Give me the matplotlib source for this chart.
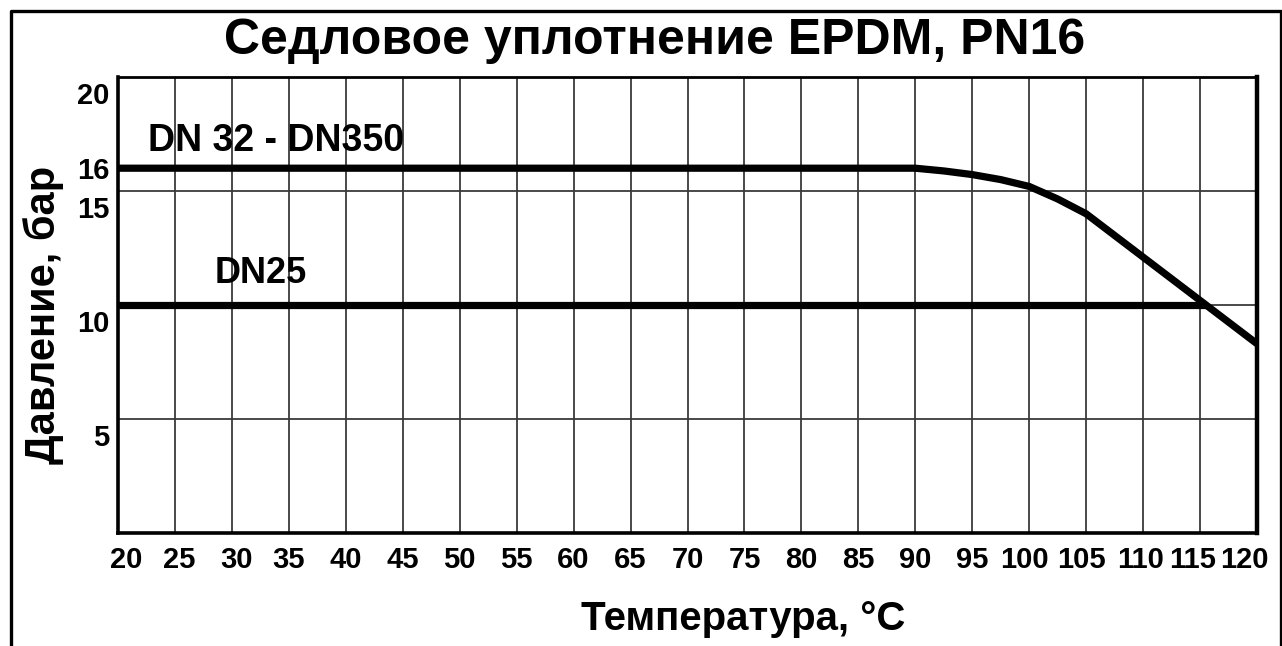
import matplotlib
matplotlib.use("Agg")
import matplotlib.pyplot as plt
import matplotlib.transforms as mtransforms
from matplotlib.lines import Line2D

plt.rcParams['font.family'] = ['Liberation Sans', 'DejaVu Sans']
plt.rcParams['font.weight'] = 'bold'

# данные
temp_ticks = [20, 25, 30, 35, 40, 45, 50, 55, 60, 65, 70, 75, 80, 85, 90, 95, 100, 105, 110, 115, 120]
press_ticks = [5, 10, 15, 16, 20]
press_grid = [5, 10, 15]

dn350_temp = [20, 90, 92.5, 95, 97.5, 100, 102.5, 105, 110, 115, 120]
dn350_press = [16, 16, 15.88, 15.72, 15.5, 15.2, 14.65, 14.0, 12.1, 10.2, 8.3]

dn25_temp = [20, 115.5]
dn25_press = [10, 10]

fig = plt.figure(figsize=(12.82, 6.46), dpi=100)
ax = fig.add_axes([118 / 1282, 113 / 646, 1139 / 1282, 456 / 646])

# сетка
for t in temp_ticks[1:-1]:
    ax.axvline(t, color='#3a3a3a', linewidth=1.3, zorder=1)
for p in press_grid:
    ax.axhline(p, color='#3a3a3a', linewidth=1.3, zorder=1)

ax.plot(dn350_temp, dn350_press, color='black', linewidth=5.2,
        solid_joinstyle='round', solid_capstyle='butt', zorder=3)
ax.plot(dn25_temp, dn25_press, color='black', linewidth=5.2,
        solid_capstyle='butt', zorder=3)

ax.set_xlim(20, 120)
ax.set_ylim(0, 20)

ax.set_xticks(temp_ticks)
ax.set_xticklabels([str(t) for t in temp_ticks], fontsize=21, fontweight='bold')
ax.set_yticks(press_ticks)
ax.set_yticklabels([str(p) for p in press_ticks], fontsize=21, fontweight='bold')
ax.tick_params(axis='both', length=0)
ax.tick_params(axis='x', pad=9)
ax.tick_params(axis='y', pad=6)

# подписи немного смещены относительно линий сетки, как в оригинале
x_shift_px = {20: 8, 25: 4, 30: 5, 100: -5, 105: -5, 110: -3, 115: -7, 120: -13}
for lbl, t in zip(ax.get_xticklabels(), temp_ticks):
    if t in x_shift_px:
        off = mtransforms.ScaledTranslation(x_shift_px[t] / 100, 0, fig.dpi_scale_trans)
        lbl.set_transform(lbl.get_transform() + off)

shift = mtransforms.ScaledTranslation(0, -0.05, fig.dpi_scale_trans)
for lbl, p in zip(ax.get_yticklabels(), press_ticks):
    if p != 16:
        lbl.set_va('top')
        lbl.set_transform(lbl.get_transform() + shift)

for side, lw in [('left', 2.6), ('bottom', 2.6), ('top', 2.0), ('right', 3.2)]:
    ax.spines[side].set_linewidth(lw)
    ax.spines[side].set_color('black')

ax.text(22.6, 17.2, 'DN 32 - DN350', fontsize=27, fontweight='bold',
        ha='left', va='center', zorder=4)
ax.text(28.5, 11.4, 'DN25', fontsize=26, fontweight='bold',
        ha='left', va='center', zorder=4)

ax.set_xlabel('Температура, °C', fontsize=29, fontweight='bold')
ax.xaxis.set_label_coords((743 - 118) / 1139, -86 / 456)
ax.xaxis.label.set_va('center')
ax.set_ylabel('Давление, бар', fontsize=30, fontweight='bold')
ax.yaxis.set_label_coords((44 - 118) / 1139, (533 - 315) / 456)
ax.yaxis.label.set_va('center')

fig.text(655 / 1282, 1 - 41 / 646, 'Седловое уплотнение EPDM, PN16',
         fontsize=36, fontweight='bold', ha='center', va='center')

# рамка вокруг рисунка (низ уходит за край)
x0, x1, y1 = 10.5 / 1282, 1280.5 / 1282, 1 - 10.5 / 646
fig.add_artist(Line2D([x0, x0, x1, x1], [-0.05, y1, y1, -0.05],
                      color='black', linewidth=2.4, transform=fig.transFigure))

fig.savefig('out.png', dpi=100, facecolor='white')
